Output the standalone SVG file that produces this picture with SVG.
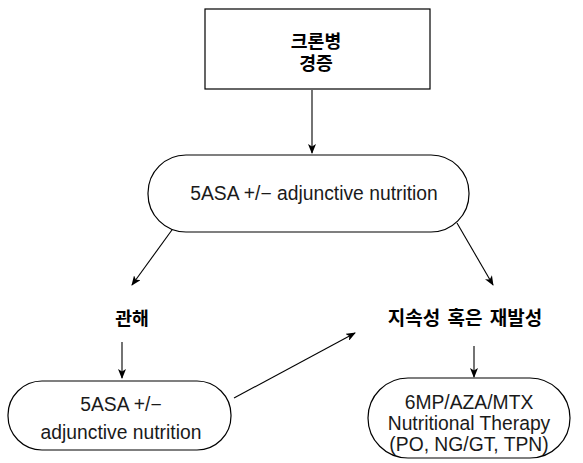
<svg xmlns="http://www.w3.org/2000/svg" width="583" height="463" viewBox="0 0 583 463">
  <style>
    .box { fill: #ffffff; stroke: #000000; stroke-width: 1.2; }
    .ko { font-family: "Noto Sans CJK KR", "Noto Sans", sans-serif; font-weight: bold; font-size: 18.3px; fill: #000000; text-anchor: middle; }
    .ko-wide { font-size: 19px; word-spacing: 3px; }
    .en { font-family: "Liberation Sans", Arial, sans-serif; font-size: 19.3px; fill: #1a1a1a; text-anchor: middle; }
    .edge { stroke: #000000; stroke-width: 1.1; fill: none; marker-end: url(#head); }
  </style>
  <defs>
    <marker id="head" viewBox="0 0 10 8" refX="9" refY="4" markerWidth="10" markerHeight="8" markerUnits="userSpaceOnUse" orient="auto">
      <path d="M0,0 L10,4 L0,8 L2.5,4 Z" fill="#000000"/>
    </marker>
  </defs>

  <rect width="583" height="463" fill="#ffffff"/>

  <!-- connectors -->
  <g id="connectors">
    <line class="edge" x1="312" y1="90" x2="312" y2="153"/>
    <line class="edge" x1="177" y1="223" x2="132" y2="285"/>
    <line class="edge" x1="457" y1="223" x2="493" y2="285"/>
    <line class="edge" x1="122" y1="342" x2="122" y2="378"/>
    <line class="edge" x1="234" y1="398" x2="355" y2="333"/>
    <line class="edge" x1="474" y1="346" x2="474" y2="377"/>
  </g>

  <!-- start: mild Crohn's disease -->
  <g id="node-start">
    <rect class="box" x="205" y="9" width="225" height="80"/>
    <text class="ko" x="316" y="48">크론병</text>
    <text class="ko" x="316" y="70">경증</text>
  </g>

  <!-- first-line therapy -->
  <g id="node-first-line">
    <rect class="box" x="148" y="155" width="321" height="77" rx="38" ry="38"/>
    <text class="en" x="314" y="200">5ASA +/− adjunctive nutrition</text>
  </g>

  <!-- remission label -->
  <g id="node-remission">
    <text class="ko" x="132" y="325">관해</text>
  </g>

  <!-- persistent or relapsing label -->
  <g id="node-relapse">
    <text class="ko ko-wide" x="465" y="325">지속성 혹은 재발성</text>
  </g>

  <!-- maintenance therapy -->
  <g id="node-maintenance">
    <rect class="box" x="8" y="381" width="223" height="69" rx="34" ry="34"/>
    <text class="en" x="121" y="411">5ASA +/−</text>
    <text class="en" x="121" y="439">adjunctive nutrition</text>
  </g>

  <!-- second-line therapy -->
  <g id="node-second-line">
    <rect class="box" x="368" y="378" width="202" height="80" rx="40" ry="40"/>
    <text class="en" x="469" y="409">6MP/AZA/MTX</text>
    <text class="en" x="469" y="430">Nutritional Therapy</text>
    <text class="en" x="469" y="451">(PO, NG/GT, TPN)</text>
  </g>
</svg>
